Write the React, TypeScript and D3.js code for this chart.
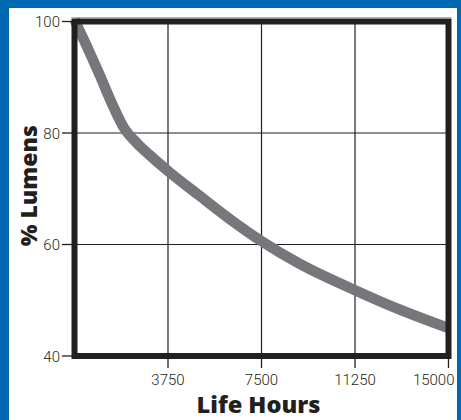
import * as d3 from 'd3';
import { useEffect, useRef } from 'react';

const width = 461;
const height = 420;

// life hours vs % lumens
const hours = [0, 500, 1000, 1500, 2000, 2500, 3000, 3750, 5000, 6250, 7500, 9000, 11250, 13000, 15000];
const lumens = [100.3, 95.5, 90.5, 85.3, 80.8, 78.2, 76.1, 73.2, 68.8, 64.5, 60.6, 56.6, 51.8, 48.4, 45];
const xTicks = [3750, 7500, 11250, 15000];
const yTicks = [40, 60, 80, 100];
const xGrid = [3750, 7500, 11250];
const yGrid = [60, 80];

const frameColor = '#231f20';
const curveColor = '#76777b';
const blue = '#0068b3';

export default function App() {
  const containerRef = useRef<SVGSVGElement>(null);

  useEffect(() => {
    document.body.style.margin = '0';
    const svg = d3.select(containerRef.current);
    svg.selectAll('*').remove();

    const x = d3.scaleLinear().domain([0, 15000]).range([74.5, 448.5]);
    const y = d3.scaleLinear().domain([40, 100]).range([356, 21.5]);

    svg.append('rect').attr('width', width).attr('height', height).attr('fill', '#fff');

    // blue edge strips
    svg.append('rect').attr('x', 0).attr('y', 0).attr('width', 9).attr('height', height).attr('fill', blue);
    svg.append('rect').attr('x', 0).attr('y', 0).attr('width', width).attr('height', 8).attr('fill', blue);
    svg.append('rect').attr('x', 457).attr('y', 0).attr('width', 4).attr('height', height).attr('fill', blue);

    // grid
    const grid = svg.append('g').attr('stroke', frameColor).attr('stroke-width', 1.2);
    grid
      .selectAll('line.gx')
      .data(xGrid)
      .join('line')
      .attr('class', 'gx')
      .attr('x1', (d) => x(d))
      .attr('x2', (d) => x(d))
      .attr('y1', y(100))
      .attr('y2', y(40));
    grid
      .selectAll('line.gy')
      .data(yGrid)
      .join('line')
      .attr('class', 'gy')
      .attr('x1', x(0))
      .attr('x2', x(15000))
      .attr('y1', (d) => y(d))
      .attr('y2', (d) => y(d));

    // curve
    const line = d3
      .line<number>()
      .x((d, i) => x(hours[i]))
      .y((d) => y(d))
      .curve(d3.curveMonotoneX);
    svg
      .append('path')
      .attr('d', line(lumens))
      .attr('fill', 'none')
      .attr('stroke', curveColor)
      .attr('stroke-width', 10.5);

    // frame
    svg
      .append('line')
      .attr('x1', x(0) - 3)
      .attr('x2', x(15000) + 3)
      .attr('y1', y(100) - 4)
      .attr('y2', y(100) - 4)
      .attr('stroke', '#b0b0b0')
      .attr('stroke-width', 1);
    svg
      .append('rect')
      .attr('x', x(0))
      .attr('y', y(100))
      .attr('width', x(15000) - x(0))
      .attr('height', y(40) - y(100))
      .attr('fill', 'none')
      .attr('stroke', frameColor)
      .attr('stroke-width', 6);

    // ticks
    const ticks = svg.append('g').attr('stroke', frameColor).attr('stroke-width', 1.3);
    ticks
      .selectAll('line.ty')
      .data(yTicks)
      .join('line')
      .attr('class', 'ty')
      .attr('x1', 62)
      .attr('x2', x(0))
      .attr('y1', (d) => y(d))
      .attr('y2', (d) => y(d));
    ticks
      .selectAll('line.tx')
      .data(xTicks)
      .join('line')
      .attr('class', 'tx')
      .attr('x1', (d) => x(d))
      .attr('x2', (d) => x(d))
      .attr('y1', y(40))
      .attr('y2', 368);

    const labels = svg
      .append('g')
      .attr('font-family', 'Roboto, sans-serif')
      .attr('font-weight', 300)
      .attr('font-size', 15)
      .attr('fill', frameColor);
    labels
      .selectAll('text.ly')
      .data(yTicks)
      .join('text')
      .attr('class', 'ly')
      .attr('x', 60)
      .attr('y', (d) => y(d) + 5.5)
      .attr('text-anchor', 'end')
      .text((d) => d);
    labels
      .selectAll('text.lx')
      .data(xTicks)
      .join('text')
      .attr('class', 'lx')
      .attr('x', (d, i) => (i === xTicks.length - 1 ? x(d) + 6 : x(d)))
      .attr('y', 385)
      .attr('text-anchor', (d, i) => (i === xTicks.length - 1 ? 'end' : 'middle'))
      .text((d) => d);

    // axis titles
    svg
      .append('text')
      .attr('x', 258.5)
      .attr('y', 413)
      .attr('text-anchor', 'middle')
      .attr('font-family', 'Open Sans, sans-serif')
      .attr('font-weight', 800)
      .attr('font-size', 22)
      .attr('textLength', 124)
      .attr('lengthAdjust', 'spacingAndGlyphs')
      .attr('fill', frameColor)
      .text('Life Hours');
    svg
      .append('text')
      .attr('transform', `translate(37,${(y(40) + y(100)) / 2 - 3}) rotate(-90)`)
      .attr('text-anchor', 'middle')
      .attr('font-family', 'Open Sans, sans-serif')
      .attr('font-weight', 800)
      .attr('font-size', 23)
      .attr('fill', frameColor)
      .text('% Lumens');
  }, []);

  return <svg ref={containerRef} width={width} height={height} style={{ display: 'block' }}></svg>;
}
